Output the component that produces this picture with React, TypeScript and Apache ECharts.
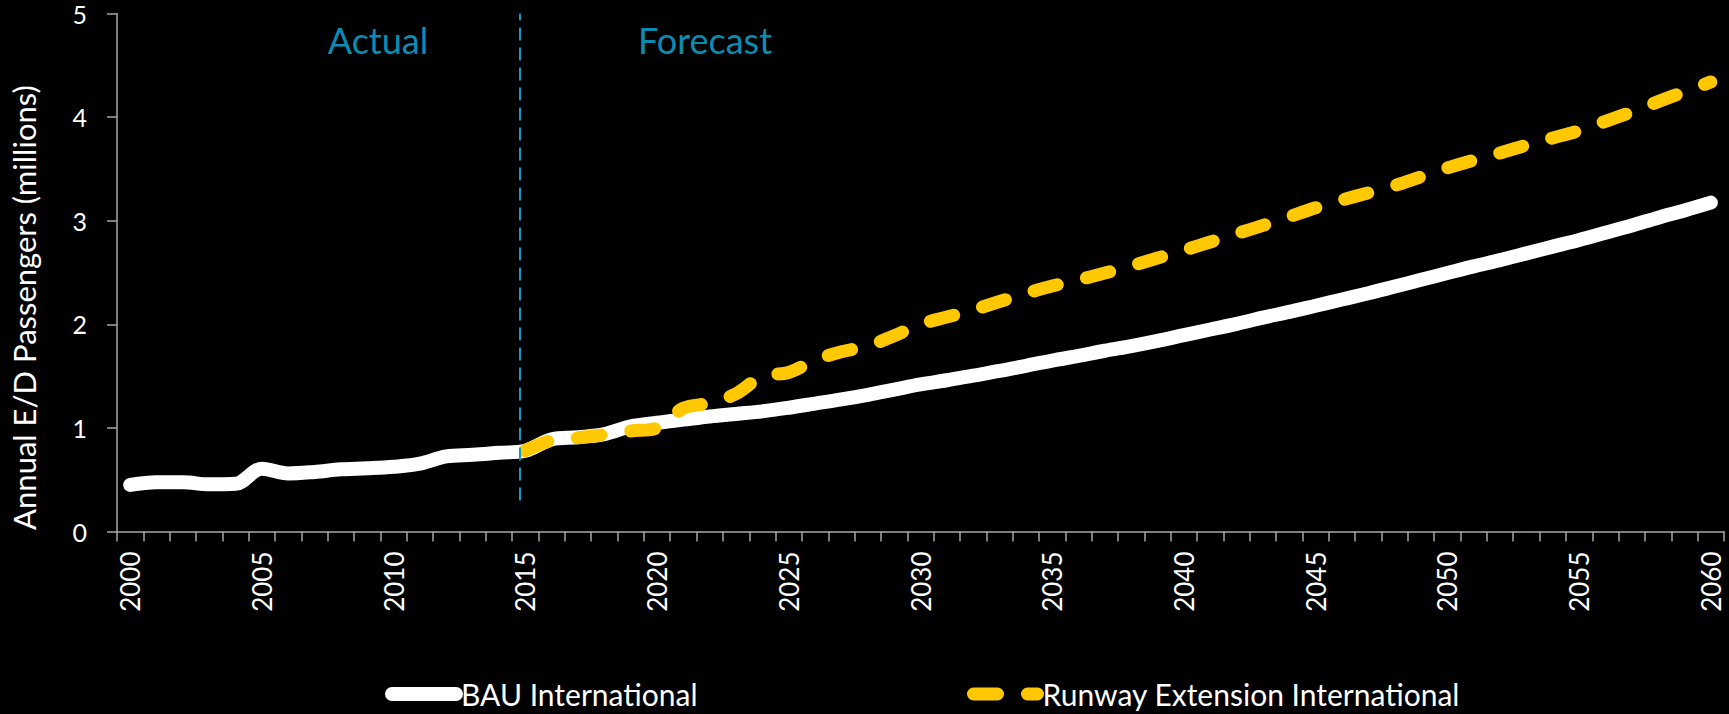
import React, { useEffect, useRef } from 'react';
import * as echarts from 'echarts';

const FONT = 'Lato, "Open Sans", sans-serif';
const TEAL_TEXT = '#0A8CB3';
const TEAL_LINE = '#1798C2';
const AXIS_GREY = '#a6a6a6';

const years = [
  '2000', '2001', '2002', '2003', '2004', '2005', '2006', '2007', '2008', '2009',
  '2010', '2011', '2012', '2013', '2014', '2015', '2016', '2017', '2018', '2019',
  '2020', '2021', '2022', '2023', '2024', '2025', '2026', '2027', '2028', '2029',
  '2030', '2031', '2032', '2033', '2034', '2035', '2036', '2037', '2038', '2039',
  '2040', '2041', '2042', '2043', '2044', '2045', '2046', '2047', '2048', '2049',
  '2050', '2051', '2052', '2053', '2054', '2055', '2056', '2057', '2058', '2059',
  '2060',
];

const bauInternational = [
  0.45, 0.475, 0.475, 0.455, 0.46, 0.605, 0.56, 0.575, 0.6, 0.61,
  0.625, 0.655, 0.725, 0.74, 0.76, 0.78, 0.89, 0.91, 0.94, 1.015,
  1.05, 1.08, 1.11, 1.135, 1.16, 1.195, 1.235, 1.275, 1.32, 1.37,
  1.42, 1.46, 1.505, 1.55, 1.6, 1.65, 1.695, 1.745, 1.79, 1.84,
  1.895, 1.95, 2.005, 2.065, 2.12, 2.18, 2.24, 2.3, 2.365, 2.43,
  2.495, 2.56, 2.62, 2.685, 2.75, 2.815, 2.885, 2.955, 3.03, 3.1,
  3.175,
];

const runwayExtensionInternational = [
  null, null, null, null, null, null, null, null, null, null,
  null, null, null, null, null, 0.78, 0.88, 0.905, 0.935, 0.97,
  1.0, 1.19, 1.24, 1.33, 1.5, 1.535, 1.655, 1.735, 1.79, 1.89,
  2.0, 2.07, 2.14, 2.22, 2.3, 2.37, 2.43, 2.495, 2.565, 2.64,
  2.715, 2.795, 2.875, 2.955, 3.04, 3.125, 3.2, 3.27, 3.34, 3.425,
  3.51, 3.585, 3.655, 3.73, 3.8, 3.87, 3.96, 4.05, 4.15, 4.245,
  4.34,
];

const yTicks = { min: 0, max: 5, interval: 1 };
// continuous year scale used only to place the Actual / Forecast divider
const yearSpan = { min: 1999.5, max: 2060.5 };
const dividerYear = 2014.8;
const dividerRange = [0.3, 5];
const periodLabels = ['Actual', 'Forecast'];

export default function App() {
  const ref = useRef<HTMLDivElement>(null);

  useEffect(() => {
    document.body.style.margin = '0';
    document.body.style.background = '#000';
    const chart = echarts.init(ref.current as HTMLDivElement, null, { renderer: 'svg' });

    const legendBase = {
      top: 679,
      padding: 0,
      itemWidth: 64,
      itemHeight: 14,
      itemGap: 0,
      textStyle: { color: '#ffffff', fontSize: 30, lineHeight: 30, fontFamily: FONT },
      lineStyle: { width: 'inherit', cap: 'round' },
      itemStyle: { opacity: 0 },
      selectedMode: false,
    };

    chart.setOption({
      animation: false,
      backgroundColor: '#000000',
      textStyle: { fontFamily: FONT },
      grid: { left: 113, right: 5, top: 13.6, bottom: 182.5, containLabel: false },
      xAxis: [
        {
          type: 'category',
          data: years,
          boundaryGap: true,
          axisLine: { show: true, lineStyle: { color: AXIS_GREY, width: 1.5 } },
          axisTick: { show: true, interval: 0, length: 10, lineStyle: { color: AXIS_GREY, width: 1.5 } },
          axisLabel: {
            interval: 4,
            rotate: 90,
            margin: 20,
            color: '#ffffff',
            fontSize: 26,
            fontFamily: FONT,
          },
          splitLine: { show: false },
        },
        {
          type: 'value',
          min: yearSpan.min,
          max: yearSpan.max,
          show: false,
          splitLine: { show: false },
        },
      ],
      yAxis: {
        type: 'value',
        min: yTicks.min,
        max: yTicks.max,
        interval: yTicks.interval,
        name: 'Annual E/D Passengers (millions)',
        nameLocation: 'middle',
        nameGap: 78,
        nameRotate: 90,
        nameTextStyle: { color: '#ffffff', fontSize: 31, fontFamily: FONT, padding: [0, 70, 0, 0] },
        axisLine: { show: true, lineStyle: { color: AXIS_GREY, width: 1.5 } },
        axisTick: { show: true, length: 10, lineStyle: { color: AXIS_GREY, width: 1.5 } },
        axisLabel: { color: '#ffffff', fontSize: 25, lineHeight: 20, margin: 30, fontFamily: FONT },
        splitLine: { show: false },
      },
      legend: [
        { ...legendBase, left: 385, data: ['BAU International'] },
        { ...legendBase, left: 967, data: ['Runway Extension International'] },
      ],
      graphic: [
        {
          type: 'text',
          x: 378,
          y: 40,
          style: {
            text: periodLabels[0],
            fill: TEAL_TEXT,
            fontSize: 36,
            fontFamily: FONT,
            align: 'center',
            verticalAlign: 'middle',
          },
        },
        {
          type: 'text',
          x: 705,
          y: 40,
          style: {
            text: periodLabels[1],
            fill: TEAL_TEXT,
            fontSize: 36,
            fontFamily: FONT,
            align: 'center',
            verticalAlign: 'middle',
          },
        },
      ],
      series: [
        {
          name: 'BAU International',
          type: 'line',
          data: bauInternational,
          smooth: 0.35,
          symbol: 'none',
          showSymbol: false,
          color: '#ffffff',
          lineStyle: { color: '#ffffff', width: 14, cap: 'round', join: 'round' },
          z: 2,
        },
        {
          name: 'Runway Extension International',
          type: 'line',
          data: runwayExtensionInternational,
          smooth: 0.35,
          symbol: 'none',
          showSymbol: false,
          connectNulls: false,
          color: '#FFC800',
          lineStyle: { color: '#FFC800', width: 13, type: [24, 30], cap: 'round', join: 'round' },
          z: 3,
        },
        {
          name: 'divider',
          type: 'line',
          xAxisIndex: 1,
          data: [],
          symbol: 'none',
          silent: true,
          z: 4,
          markLine: {
            silent: true,
            symbol: ['none', 'none'],
            label: { show: false },
            lineStyle: { color: TEAL_LINE, width: 2, type: [13, 7] },
            data: [[{ coord: [dividerYear, dividerRange[0]] }, { coord: [dividerYear, dividerRange[1]] }]],
          },
        },
      ],
    });

    return () => chart.dispose();
  }, []);

  return <div ref={ref} style={{ width: 1729, height: 714 }} />;
}
